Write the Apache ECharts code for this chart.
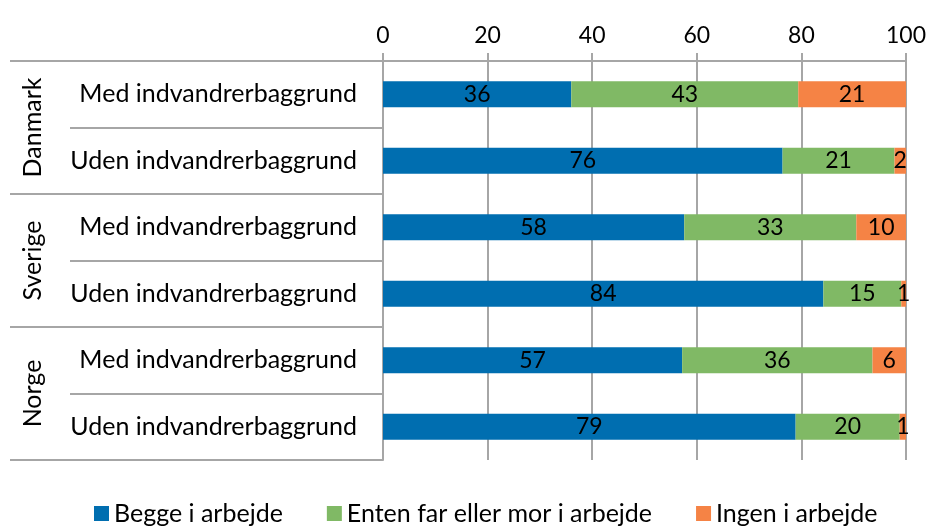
<!DOCTYPE html>
<html>
<head>
<meta charset="utf-8">
<script src="https://cdn.jsdelivr.net/npm/echarts@6/dist/echarts.min.js"></script>
<style>
html, body {margin: 0; padding: 0; background: #fff;}
#chart_1 {width: 929px; height: 527px;}
</style>
</head>
<body>
<div id="chart_1"></div>
<script>
// rækker (øverst til nederst)
var countries = ['Danmark', 'Sverige', 'Norge'];
var groups = ['Med indvandrerbaggrund', 'Uden indvandrerbaggrund',
    'Med indvandrerbaggrund', 'Uden indvandrerbaggrund',
    'Med indvandrerbaggrund', 'Uden indvandrerbaggrund'];
var seriesNames = ['Begge i arbejde', 'Enten far eller mor i arbejde', 'Ingen i arbejde'];
// procent
var begge = [36.0, 76.4, 57.6, 84.2, 57.2, 78.9];
var enten = [43.4, 21.4, 32.9, 14.9, 36.4, 19.9];
var ingen = [20.6, 2.2, 9.5, 0.9, 6.4, 1.2];
var xTicks = [0, 20, 40, 60, 80, 100];

var colors = ['#006eb0', '#80b965', '#f58345'];
var fontName = 'Lato';
var gridColor = '#a6a6a6';

var chart_data = [];
var values = [begge, enten, ingen];
for (var i = 0; i < seriesNames.length; i++) {
    chart_data.push({
        name: seriesNames[i],
        type: 'bar',
        stack: 'total',
        barWidth: 26,
        itemStyle: {color: colors[i]},
        label: {
            show: true,
            position: 'inside',
            color: '#000',
            fontFamily: fontName,
            fontSize: 23,
            formatter: function (p) {
                return Math.round(p.value);
            }
        },
        data: values[i]
    });
}

var myChart = echarts.init(document.getElementById('chart_1'));
var option = {
    animation: false,
    color: colors,
    grid: {left: 383, right: 22, top: 61, bottom: 67},
    legend: {
        data: seriesNames,
        top: 496,
        left: 89,
        icon: 'rect',
        itemWidth: 15,
        itemHeight: 15,
        itemGap: 44,
        textStyle: {fontFamily: fontName, fontSize: 25, color: '#000'}
    },
    xAxis: {
        type: 'value',
        position: 'top',
        min: 0,
        max: 100,
        interval: 20,
        axisLine: {show: true, lineStyle: {color: gridColor, width: 2}},
        axisTick: {show: true, length: 8, lineStyle: {color: gridColor, width: 2}},
        splitLine: {show: true, lineStyle: {color: gridColor, width: 2}},
        axisLabel: {
            color: '#000',
            fontFamily: fontName,
            fontSize: 23,
            margin: 14,
            formatter: function (v) {
                return xTicks.indexOf(v) >= 0 ? v : '';
            }
        }
    },
    yAxis: [
        {
            type: 'category',
            inverse: true,
            data: groups,
            axisLine: {show: true, lineStyle: {color: gridColor, width: 2}},
            axisTick: {show: true, interval: 0, length: 313, lineStyle: {color: gridColor, width: 2}},
            axisLabel: {
                interval: 0,
                color: '#000',
                fontFamily: fontName,
                fontSize: 25,
                margin: 26
            }
        },
        {
            type: 'category',
            inverse: true,
            position: 'left',
            data: countries,
            axisLine: {show: false},
            axisTick: {show: true, interval: 0, length: 373, lineStyle: {color: gridColor, width: 2}},
            axisLabel: {
                interval: 0,
                hideOverlap: false,
                color: '#000',
                fontFamily: fontName,
                fontSize: 25,
                rotate: 90,
                margin: 350,
                align: 'center',
                verticalAlign: 'middle'
            }
        }
    ],
    series: chart_data
};

myChart.setOption(option);
</script>
</body>
</html>
